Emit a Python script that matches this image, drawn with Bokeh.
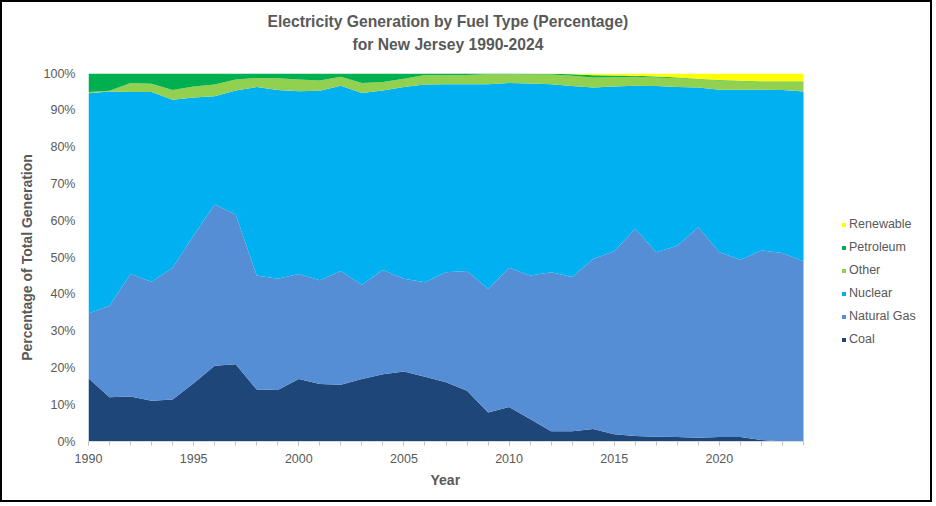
from bokeh.plotting import figure
from bokeh.models import (Range1d, SingleIntervalTicker, PrintfTickFormatter, Legend,
                          LegendItem, Title, ColumnDataSource)
from bokeh.embed import file_html
from bokeh.resources import INLINE

years = list(range(1990, 2025))
coal = [17.2, 12.0, 12.2, 11.1, 11.4, 15.8, 20.6, 21.0, 14.1, 14.0, 17.0, 15.6, 15.4, 17.0,
        18.3, 19.0, 17.6, 16.1, 13.8, 7.9, 9.4, 6.1, 2.8, 2.8, 3.4, 2.0, 1.5, 1.3, 1.2, 1.0,
        1.2, 1.2, 0.4, 0.0, 0.0]
natural_gas = [17.6, 24.9, 33.3, 32.3, 35.8, 40.2, 43.8, 40.7, 31.0, 30.2, 28.5, 28.2, 30.9,
               25.6, 28.3, 25.2, 25.7, 29.9, 32.5, 33.6, 37.8, 39.0, 43.2, 41.9, 46.2, 49.7,
               56.3, 50.1, 52.0, 57.2, 50.2, 48.2, 51.5, 51.2, 49.0]
nuclear = [59.8, 58.2, 49.5, 51.6, 45.7, 37.5, 29.4, 33.7, 51.2, 51.3, 49.7, 51.5, 50.4, 52.1,
           48.8, 52.1, 53.7, 51.1, 50.8, 55.6, 50.2, 52.2, 51.1, 51.9, 46.6, 44.8, 38.9, 45.2,
           43.1, 38.0, 44.2, 46.2, 43.7, 44.3, 46.1]
other = [0.4, 0.2, 2.4, 2.2, 2.6, 3.0, 3.2, 3.0, 2.5, 3.2, 3.2, 2.8, 2.4, 2.7, 2.3, 2.3, 2.6,
         2.4, 2.5, 2.7, 2.4, 2.5, 2.6, 2.8, 2.7, 2.5, 2.4, 2.3, 2.4, 2.3, 2.5, 2.3, 2.2, 2.3, 2.5]
petroleum = [5.0, 4.7, 2.6, 2.8, 4.5, 3.5, 3.0, 1.6, 1.2, 1.3, 1.6, 1.9, 0.9, 2.6, 2.3, 1.4,
             0.4, 0.5, 0.4, 0.2, 0.2, 0.2, 0.2, 0.4, 0.6, 0.45, 0.3, 0.3, 0.2, 0.1, 0.1, 0.1,
             0.1, 0.1, 0.2]
renewable = [0.0] * 21 + [0.05, 0.1, 0.2, 0.5, 0.55, 0.6, 0.8, 1.1, 1.4, 1.8, 2.0, 2.1, 2.1, 2.2]

names = ["Coal", "Natural Gas", "Nuclear", "Other", "Petroleum", "Renewable"]
keys = ["coal", "gas", "nuclear", "other", "petroleum", "renewable"]
colors = ["#1F4678", "#558ED5", "#00B0F0", "#92D050", "#00B050", "#FFFF00"]
series = [coal, natural_gas, nuclear, other, petroleum, renewable]

totals = [sum(v) for v in zip(*series)]
data = {"year": years}
for k, s in zip(keys, series):
    data[k] = [v * 100.0 / t for v, t in zip(s, totals)]
source = ColumnDataSource(data)

TXT = "#595959"
FONT = "Liberation Sans"

W, H = 932, 502
BL, BR, BT, BB = 86, 4, 71, 63
frame_w = W - BL - BR
data_w = 715  # pixel width covered by 1990-2024; the rest of the frame holds the legend
x_end = years[0] + (years[-1] - years[0]) * frame_w / data_w

p = figure(width=W, height=H, output_backend="svg", toolbar_location=None,
           x_range=Range1d(years[0], x_end), y_range=Range1d(0, 100),
           min_border_left=BL, min_border_right=BR, min_border_top=BT, min_border_bottom=BB,
           styles={"border": "2px solid #000"})

# title: two lines (closest-to-plot line added first)
t2 = Title(text="for New Jersey 1990-2024\n ", align="left", offset=264, text_font=FONT,
           text_font_size="15.7px", text_font_style="bold", text_color=TXT,
           text_line_height=1.2, standoff=0)
t1 = Title(text="Electricity Generation by Fuel Type (Percentage)", align="left", offset=179,
           text_font=FONT, text_font_size="15.7px", text_font_style="bold", text_color=TXT,
           standoff=10)
p.add_layout(t2, "above")
p.add_layout(t1, "above")

renderers = p.varea_stack(stackers=keys, x="year", source=source, color=colors)

p.xgrid.grid_line_color = None
p.ygrid.grid_line_color = None
p.outline_line_color = None

xa = p.xaxis[0]
xa.bounds = (years[0], years[-1])
xa.ticker = SingleIntervalTicker(interval=5, num_minor_ticks=5)
xa.axis_line_color = "#D9D9D9"
xa.major_tick_line_color = "#BFBFBF"
xa.minor_tick_line_color = "#BFBFBF"
xa.major_tick_in = 0
xa.major_tick_out = 4
xa.minor_tick_in = 0
xa.minor_tick_out = 4
xa.major_label_text_font = FONT
xa.major_label_text_font_size = "12.5px"
xa.major_label_text_color = TXT
xa.major_label_standoff = 8

# x-axis title centred under the 1990-2024 span
xlab = Title(text="Year", align="left", offset=342, text_font=FONT, text_font_size="14px",
             text_font_style="bold", text_color=TXT, standoff=8)
p.add_layout(xlab, "below")

ya = p.yaxis[0]
ya.ticker = SingleIntervalTicker(interval=10, num_minor_ticks=0)
ya.formatter = PrintfTickFormatter(format="%d%%")
ya.axis_line_color = None
ya.major_tick_line_color = None
ya.minor_tick_line_color = None
ya.major_tick_out = 0
ya.major_tick_in = 0
ya.minor_tick_out = 0
ya.minor_tick_in = 0
ya.major_label_text_font = FONT
ya.major_label_text_font_size = "12.5px"
ya.major_label_text_color = TXT
ya.major_label_standoff = 13

ylab = Title(text="Percentage of Total Generation", align="center", text_font=FONT,
             text_font_size="14px", text_font_style="bold", text_color=TXT, standoff=12)
p.add_layout(ylab, "left")

items = [LegendItem(label=n, renderers=[r]) for n, r in zip(names, renderers)][::-1]
legend = Legend(items=items, location=(753, 94), glyph_width=5, glyph_height=5,
                label_text_font=FONT, label_text_font_size="12.5px", label_text_color=TXT,
                label_standoff=3, label_height=16, spacing=7, padding=0, margin=0,
                border_line_color=None, background_fill_alpha=0)
p.add_layout(legend)

open("out.html", "w").write(file_html(p, INLINE))
